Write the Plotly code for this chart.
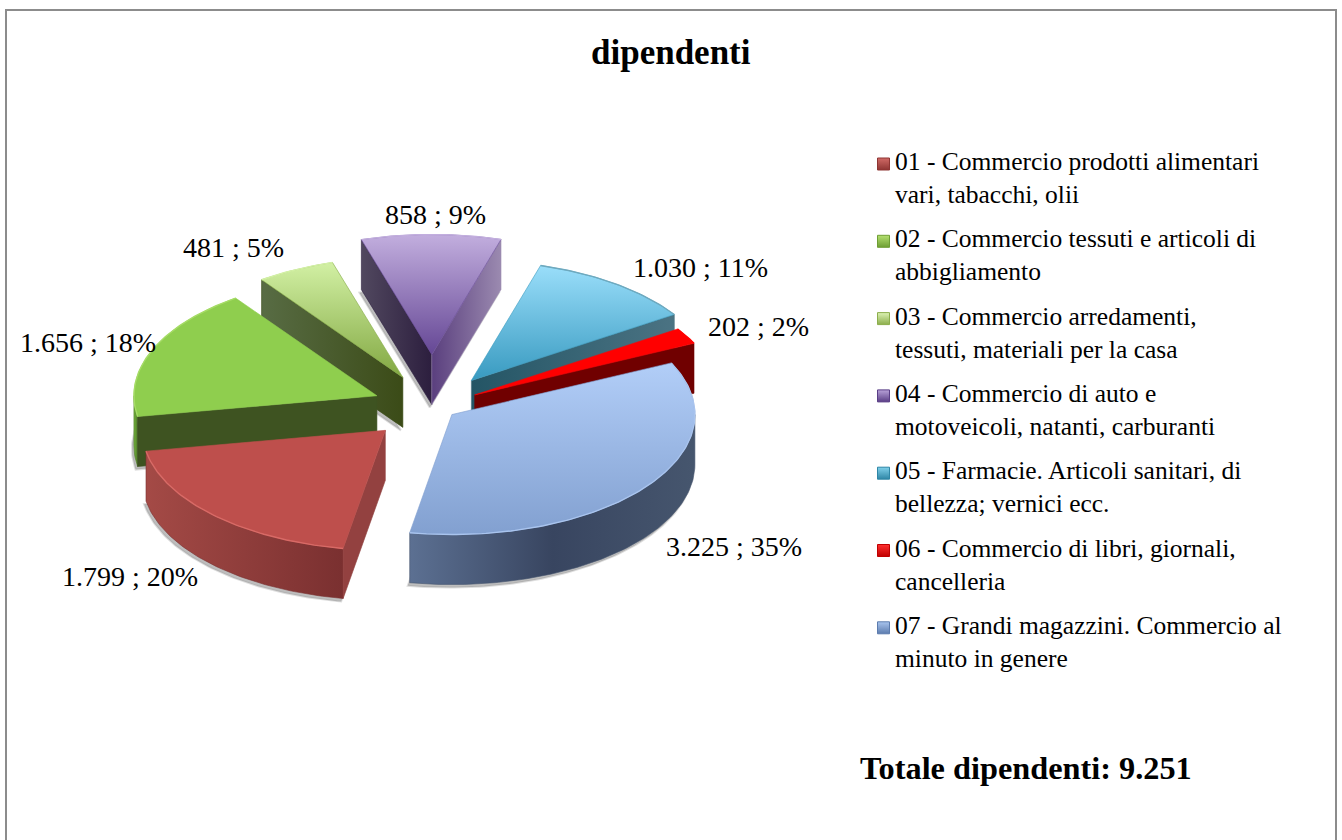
import math
import plotly.graph_objects as go

CATEGORIES = [
    "01 - Commercio prodotti alimentari<br>vari, tabacchi, olii",
    "02 - Commercio tessuti e articoli di<br>abbigliamento",
    "03 - Commercio arredamenti,<br>tessuti, materiali per la casa",
    "04 - Commercio di auto e<br>motoveicoli, natanti, carburanti",
    "05 - Farmacie. Articoli sanitari, di<br>bellezza; vernici ecc.",
    "06 - Commercio di libri, giornali,<br>cancelleria",
    "07 - Grandi magazzini. Commercio al<br>minuto in genere",
]
VALUES = [1799, 1656, 481, 858, 1030, 202, 3225]
PERCENTS = [20, 18, 5, 9, 11, 2, 35]
TITLE = "dipendenti"
TOTAL_TEXT = "Totale dipendenti: 9.251"

# Exploded-pie geometry
FIRST_ANGLE = 190.0
CX, CY, RX, RY, DEPTH, TILT = 432, 407, 243, 120, 50, 0.5
EXPLODE = [66, 59.5, 66, 105, 66, 49, 25]

# Styling per slice (top surface: upper colour, lower colour)
TOP = [("#BE4F4C", "#BE4F4C"), ("#8FCE4E", "#8FCE4E"), ("#D2F0A4", "#82A842"), ("#C2AEDE", "#654795"),
       ("#9ADEFA", "#389AC0"), ("#FF0000", "#FF0000"), ("#B2CEF8", "#82A0D0")]
RIM = ["#D86A66", "#A6DC66", "#D2F0A4", "#C2AEDE", "#6FA9BE", "#FF0000", "#A9C4EE"]
WALL = [["#A44A46", "#7A3030"], ["#74B53E", "#4F7A28"], ["#566A42", "#3C4C18"], ["#5A3F7E", "#9B8AB0"],
        ["#245565", "#4A7080"], ["#700000", "#700000"], ["#5C7092", "#384560", "#46566E"]]
START_FACE = [["#934140", "#934140"], ["#3E5321", "#3E5321"], ["#586C44", "#3B4B17"], ["#51485F", "#2C1E3E"],
              ["#245565", "#245565"], ["#700000", "#700000"], ["#5C7092", "#5C7092"]]
END_FACE = [["#934140", "#934140"], ["#3E5321", "#3E5321"], ["#3E5321", "#3E5321"], ["#5A3F7E", "#9B8AB0"],
            ["#245565", "#4B7383"], ["#700000", "#700000"], ["#5C7092", "#5C7092"]]
SWATCH = [("#D06A66", "#8E3533"), ("#B4E070", "#6E9E34"), ("#DCF2B4", "#8CAE4C"), ("#B8A2D8", "#5A3E86"),
          ("#80D0EA", "#2E86A6"), ("#FF3030", "#C00000"), ("#A8C4EE", "#5C7CAE")]
LABEL_POS = [(130, 576), (88, 342), (233, 247), (435, 214), (700, 267), (758, 326), (734, 546)]

LEGEND_FONT = 25.5
LABEL_FONT = 28
FONT = "Liberation Serif"


def label(v, pct):
    s = f"{v:,}".replace(",", ".")
    return f"{s} ; {pct}%"


def pt(ax, ay, deg, dz=0):
    r = math.radians(deg)
    return ax + RX * math.sin(r), ay - RY * math.cos(r) + dz


def arc(ax, ay, a, b, dz=0):
    n = max(2, int(abs(b - a)) + 1)
    return [pt(ax, ay, a + (b - a) * i / (n - 1), dz) for i in range(n)]


def poly(fig, pts, colors, kind):
    xs = [p[0] for p in pts] + [pts[0][0]]
    ys = [p[1] for p in pts] + [pts[0][1]]
    if kind == "vertical":          # y axis runs downward, gradient follows data y
        colors = colors[::-1]
    scale = [[i / (len(colors) - 1), c] for i, c in enumerate(colors)]
    fig.add_trace(go.Scatter(x=xs, y=ys, mode="lines", fill="toself",
                             fillgradient=dict(type=kind, colorscale=scale),
                             line=dict(width=0.6, color=colors[0] if kind == "vertical" else colors[-1]),
                             showlegend=False, hoverinfo="skip"))


total = sum(VALUES)
slices, ang = [], FIRST_ANGLE
for i, v in enumerate(VALUES):
    sweep = 360 * v / total
    mid = ang + sweep / 2
    m = math.radians(mid)
    ax = CX + EXPLODE[i] * math.sin(m)
    ay = CY - EXPLODE[i] * math.cos(m) * TILT
    slices.append(dict(i=i, a=ang, b=ang + sweep, ax=ax, ay=ay, back=math.cos(m)))
    ang += sweep

fig = go.Figure()
for s in sorted(slices, key=lambda d: -d["back"]):
    i, a, b, ax, ay = s["i"], s["a"], s["b"], s["ax"], s["ay"]
    # soft drop shadow under the bottom of the slice
    sh = [(ax - 2, ay + DEPTH + 3)] + [(x - 2, y + 3) for x, y in arc(ax, ay, a, b, DEPTH)]
    fig.add_trace(go.Scatter(x=[p[0] for p in sh] + [sh[0][0]], y=[p[1] for p in sh] + [sh[0][1]],
                             mode="lines", fill="toself", fillcolor="rgba(110,110,110,0.45)",
                             line=dict(width=2, color="rgba(150,150,150,0.3)"),
                             showlegend=False, hoverinfo="skip"))
    # outer wall: only the front half (clock 90..270) faces the viewer
    for lo in (90, 450):
        wa, wb = max(a, lo), min(b, lo + 180)
        if wb > wa:
            poly(fig, arc(ax, ay, wa, wb) + arc(ax, ay, wb, wa, DEPTH), WALL[i], "horizontal")
    # radial faces that face the viewer
    if math.sin(math.radians(a)) < 0:
        p = pt(ax, ay, a)
        poly(fig, [(ax, ay), p, (p[0], p[1] + DEPTH), (ax, ay + DEPTH)], START_FACE[i], "horizontal")
    if math.sin(math.radians(b)) > 0:
        p = pt(ax, ay, b)
        poly(fig, [(ax, ay), p, (p[0], p[1] + DEPTH), (ax, ay + DEPTH)], END_FACE[i], "horizontal")
    # top surface
    poly(fig, [(ax, ay)] + arc(ax, ay, a, b), list(TOP[i]), "vertical")
    rim = arc(ax, ay, a, b)
    fig.add_trace(go.Scatter(x=[p[0] for p in rim], y=[p[1] for p in rim], mode="lines",
                             line=dict(width=1.4, color=RIM[i]), showlegend=False, hoverinfo="skip"))

# legend: native entries for the text, swatches overlaid in the reference's tighter position
for i, name in enumerate(CATEGORIES):
    fig.add_trace(go.Scatter(x=[None], y=[None], mode="markers", name=name, legendgroup=f"g{i}",
                             marker=dict(symbol="square", size=12, color="rgba(0,0,0,0)"),
                             hoverinfo="skip"))
    fig.add_trace(go.Scatter(x=[883.5], y=[164 + 77.3 * i], mode="markers", showlegend=False, hoverinfo="skip",
                             marker=dict(symbol="square", size=12, color=SWATCH[i][0],
                                         gradient=dict(type="vertical", color=SWATCH[i][1]),
                                         line=dict(width=1, color=SWATCH[i][1]))))

for i, (x, y) in enumerate(LABEL_POS):
    fig.add_annotation(x=x, y=y, text=label(VALUES[i], PERCENTS[i]), showarrow=False, xanchor="center",
                       yanchor="middle", font=dict(family=FONT, size=LABEL_FONT, color="#000000"))

fig.add_annotation(x=671, y=52, text=f"<b>{TITLE}</b>", showarrow=False,
                   font=dict(family=FONT, size=35, color="#000000"))
fig.add_annotation(x=1026, y=768, text=f"<b>{TOTAL_TEXT}</b>", showarrow=False,
                   font=dict(family=FONT, size=32.3, color="#000000"))

fig.add_shape(type="rect", x0=6, y0=10, x1=1336, y1=860, line=dict(color="#8C8C8C", width=2), layer="below")

fig.update_layout(
    width=1342, height=840, margin=dict(l=0, r=0, t=0, b=0),
    paper_bgcolor="white", plot_bgcolor="white",
    xaxis=dict(range=[0, 1342], visible=False, fixedrange=True),
    yaxis=dict(range=[840, 0], visible=False, fixedrange=True),
    font=dict(family=FONT),
    legend=dict(x=855 / 1342, y=1 - 137 / 840, xanchor="left", yanchor="top", tracegroupgap=8,
                font=dict(family=FONT, size=LEGEND_FONT, color="#000000"), itemwidth=30,
                bgcolor="rgba(0,0,0,0)"),
)
fig.write_html("out.html", config={"displayModeBar": False}, post_script="document.body.style.margin='0';")
